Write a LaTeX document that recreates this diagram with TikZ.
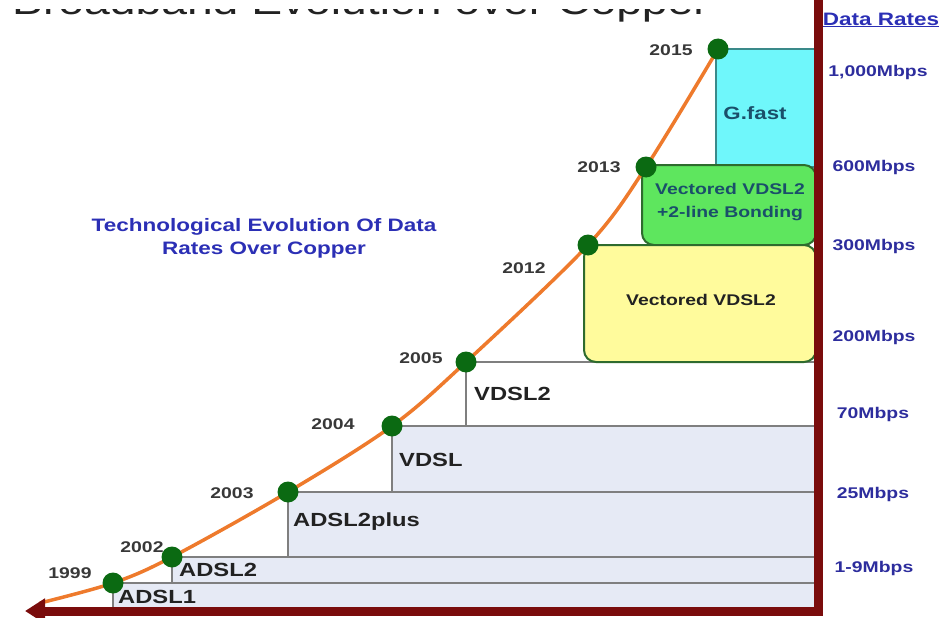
\documentclass[tikz,border=0pt]{standalone}
\usepackage{fontspec}
\setmainfont{Liberation Sans}
\usepackage{graphicx}
\usetikzlibrary{arrows.meta,positioning,backgrounds}
\definecolor{cAxis}{HTML}{7A0C0C}
\definecolor{cCurve}{HTML}{EE7A2C}
\definecolor{cDot}{HTML}{0B6A12}
\definecolor{cBand}{HTML}{E6EAF5}
\definecolor{cLine}{HTML}{7F7F7F}
\definecolor{cVect}{HTML}{FFFB9C}
\definecolor{cBond}{HTML}{5EE65E}
\definecolor{cFast}{HTML}{6FF7FB}
\definecolor{cEdge}{HTML}{2E6B2E}
\definecolor{cFastEdge}{HTML}{3A8A8A}
\definecolor{cYear}{HTML}{383838}
\definecolor{cTech}{HTML}{222222}
\definecolor{cBlue}{HTML}{2B2FB5}
\definecolor{cRate}{HTML}{2D2D9D}
\definecolor{cTeal}{HTML}{1A4F6A}
\definecolor{cTitle}{HTML}{222222}
\newcommand{\sx}[1]{\scalebox{1.25}[1]{#1}}
\tikzset{
  dot/.style={circle, fill=cDot, minimum size=21pt, inner sep=0pt},
  band/.style={fill=cBand},
  stepline/.style={draw=cLine, line width=1.6pt},
  curve/.style={draw=cCurve, line width=3.5pt},
  axis/.style={draw=cAxis, line width=9pt, line join=miter, {Triangle[length=20pt,width=24pt]}-},
  vbox/.style={rounded corners=12pt, draw=cEdge, line width=2pt},
  year/.style={font=\bfseries\fontsize{15.5}{18}\selectfont, text=cYear, inner sep=0pt},
  tech/.style={font=\bfseries\fontsize{19}{22}\selectfont, text=cTech, anchor=west, inner sep=0pt},
  rate/.style={font=\bfseries\fontsize{15.5}{18}\selectfont, text=cRate, inner sep=0pt},
}
\begin{document}
\begin{tikzpicture}[x=1pt,y=-1pt]
  \useasboundingbox (0,0) rectangle (943,618);
  \clip (0,0) rectangle (943,618);
  % milestones
  \node[dot] (d1999) at (113,583) {};
  \node[dot] (d2002) at (172,557) {};
  \node[dot] (d2003) at (288,492) {};
  \node[dot] (d2004) at (392,426) {};
  \node[dot] (d2005) at (466,362) {};
  \node[dot] (d2012) at (588,245) {};
  \node[dot] (d2013) at (646,167) {};
  \node[dot] (d2015) at (718,49) {};
  \coordinate (corner) at (815,607);
  \coordinate (start) at (40,603);
  \begin{scope}[on background layer]
    % bands
    \fill[band] (d1999.center) rectangle (corner);
    \fill[band] (d2002.center) rectangle (d1999.center -| corner);
    \fill[band] (d2003.center) rectangle (d2002.center -| corner);
    \fill[band] (d2004.center) rectangle (d2003.center -| corner);
    \draw[stepline] (d1999.center |- corner) -- (d1999.center) -- (d1999.center -| corner);
    \draw[stepline] (d2002.center |- d1999.center) -- (d2002.center) -- (d2002.center -| corner);
    \draw[stepline] (d2003.center |- d2002.center) -- (d2003.center) -- (d2003.center -| corner);
    \draw[stepline] (d2004.center |- d2003.center) -- (d2004.center) -- (d2004.center -| corner);
    \draw[stepline] (d2005.center |- d2004.center) -- (d2005.center) -- (d2005.center -| corner);
    % boxes
    \draw[fill=cFast, draw=cFastEdge, line width=2pt] (716,49) rectangle (816,167);
    \draw[vbox, fill=cBond] (642,165) rectangle (816,245);
    \draw[vbox, fill=cVect] (584,245) rectangle (816,362);
    % growth curve
    \draw[curve] plot[smooth, tension=0.55] coordinates {(start) (d1999) (d2002) (d2003) (d2004) (d2005) (d2012) (d2013) (d2015)};
    % axes
    \draw[axis] (25,611) -- (818,611) -- (818,-10);
  \end{scope}
  % title, only its lower edge shows
  \begin{scope}
    \clip (0,10) rectangle (812,30);
    \node[anchor=base west, font=\fontsize{37}{40}\selectfont, text=cTitle, inner sep=0pt] (title) at (12,15) {\sx{Broadband Evolution over Copper}};
  \end{scope}
  % years
  \node[year] (y1999) at (70,573) {\sx{1999}};
  \node[year] (y2002) at (142,547) {\sx{2002}};
  \node[year] (y2003) at (232,493) {\sx{2003}};
  \node[year] (y2004) at (333,424) {\sx{2004}};
  \node[year] (y2005) at (421,358) {\sx{2005}};
  \node[year] (y2012) at (524,268) {\sx{2012}};
  \node[year] (y2013) at (599,167) {\sx{2013}};
  \node[year] (y2015) at (671,50) {\sx{2015}};
  % technologies
  \node[tech] (adsl1) at (118,597) {\sx{ADSL1}};
  \node[tech] (adsl2) at (179,570) {\sx{ADSL2}};
  \node[tech] (adsl2p) at (293,522) {\sx{ADSL2plus}};
  \node[tech] (vdsl) at (399,460) {\sx{VDSL}};
  \node[tech] (vdsl2) at (474,394) {\sx{VDSL2}};
  \node[font=\bfseries\fontsize{15.5}{18}\selectfont, text=cTech] (vect) at (701,300) {\sx{Vectored VDSL2}};
  \node[font=\bfseries\fontsize{15.5}{23}\selectfont, text=cTeal, align=center] (bond) at (730,202) {\sx{Vectored VDSL2}\\\sx{+2-line Bonding}};
  \node[font=\bfseries\fontsize{17.8}{20}\selectfont, text=cTeal] (gfast) at (755,113) {\sx{G.fast}};
  \node[font=\bfseries\fontsize{18}{23}\selectfont, text=cBlue, align=center] (caption) at (264,238) {\sx{Technological Evolution Of Data}\\\sx{Rates Over Copper}};
  % data rates
  \node[font=\bfseries\fontsize{18}{20}\selectfont, text=cBlue, inner sep=0pt] (rates) at (881,20) {\sx{\underline{Data Rates}}};
  \node[rate] (r1000) at (878,72) {\sx{1,000Mbps}};
  \node[rate] (r600) at (874,167) {\sx{600Mbps}};
  \node[rate] (r300) at (874,246) {\sx{300Mbps}};
  \node[rate] (r200) at (874,337) {\sx{200Mbps}};
  \node[rate] (r70) at (873,414) {\sx{70Mbps}};
  \node[rate] (r25) at (873,494) {\sx{25Mbps}};
  \node[rate] (r19) at (874,568) {\sx{1-9Mbps}};
\end{tikzpicture}
\end{document}
